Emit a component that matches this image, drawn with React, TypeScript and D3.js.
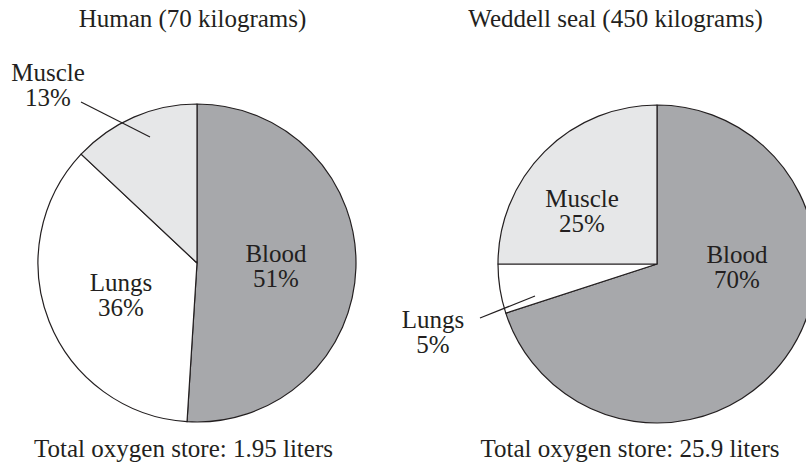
import React from "react";
import * as d3 from "d3";

// oxygen store shares, percent
const humanParts = ["Blood", "Lungs", "Muscle"];
const humanValues = [51, 36, 13];
const sealParts = ["Blood", "Lungs", "Muscle"];
const sealValues = [70, 5, 25];

const titles = ["Human (70 kilograms)", "Weddell seal (450 kilograms)"];
const totals = ["Total oxygen store: 1.95 liters", "Total oxygen store: 25.9 liters"];

const fills: Record<string, string> = {
  Blood: "#a7a8ab",
  Lungs: "#ffffff",
  Muscle: "#e6e7e8",
};

const ink = "#231f20";
const font = "'Liberation Serif', 'Times New Roman', serif";

type LabelPos = { dx: number; dy: number; line?: number[] };

// label placement relative to pie centre (text centre x, first baseline y)
const humanLabels: Record<string, LabelPos> = {
  Blood: { dx: 79, dy: -1 },
  Lungs: { dx: -76, dy: 28 },
  Muscle: { dx: -149, dy: -182, line: [-116, -161, -47, -126] },
};
const sealLabels: Record<string, LabelPos> = {
  Blood: { dx: 80, dy: -1 },
  Lungs: { dx: -224, dy: 64, line: [-177, 54, -122, 32] },
  Muscle: { dx: -75, dy: -57 },
};

function Pie(props: {
  cx: number;
  cy: number;
  r: number;
  parts: string[];
  values: number[];
  labels: Record<string, LabelPos>;
}) {
  const { cx, cy, r, parts, values, labels } = props;
  const data = parts.map((p, i) => ({ label: p, value: values[i] }));
  const pie = d3.pie<{ label: string; value: number }>()
    .sort(null)
    .value((d) => d.value);
  const arc = d3.arc<d3.PieArcDatum<{ label: string; value: number }>>()
    .innerRadius(0)
    .outerRadius(r);
  const arcs = pie(data);

  return (
    <g transform={`translate(${cx},${cy})`}>
      {arcs.map((a) => (
        <path
          key={a.data.label}
          d={arc(a) || ""}
          fill={fills[a.data.label]}
          stroke={ink}
          strokeWidth={1.2}
          strokeLinejoin="round"
        />
      ))}
      {arcs.map((a) => {
        const pos = labels[a.data.label];
        return (
          <g key={"l" + a.data.label}>
            {pos.line && (
              <line
                x1={pos.line[0]}
                y1={pos.line[1]}
                x2={pos.line[2]}
                y2={pos.line[3]}
                stroke={ink}
                strokeWidth={1.2}
              />
            )}
            <text
              textAnchor="middle"
              fontFamily={font}
              fontSize={25}
              fill={ink}
            >
              <tspan x={pos.dx} y={pos.dy}>{a.data.label}</tspan>
              <tspan x={pos.dx} y={pos.dy + 25}>{a.data.value + "%"}</tspan>
            </text>
          </g>
        );
      })}
    </g>
  );
}

export default function App() {
  const width = 806;
  const height = 467;
  return (
    <svg
      width={width}
      height={height}
      style={{ position: "absolute", left: 0, top: 0, background: "#fff" }}
    >
      <rect width={width} height={height} fill="#fff" />
      <Pie cx={197} cy={263} r={159} parts={humanParts} values={humanValues} labels={humanLabels} />
      <Pie cx={657} cy={264} r={159} parts={sealParts} values={sealValues} labels={sealLabels} />
      <g fontFamily={font} fontSize={25} fill={ink} textAnchor="middle">
        <text x={192.5} y={27}>{titles[0]}</text>
        <text x={615.5} y={27}>{titles[1]}</text>
        <text x={183.5} y={457}>{totals[0]}</text>
        <text x={630} y={457}>{totals[1]}</text>
      </g>
    </svg>
  );
}
